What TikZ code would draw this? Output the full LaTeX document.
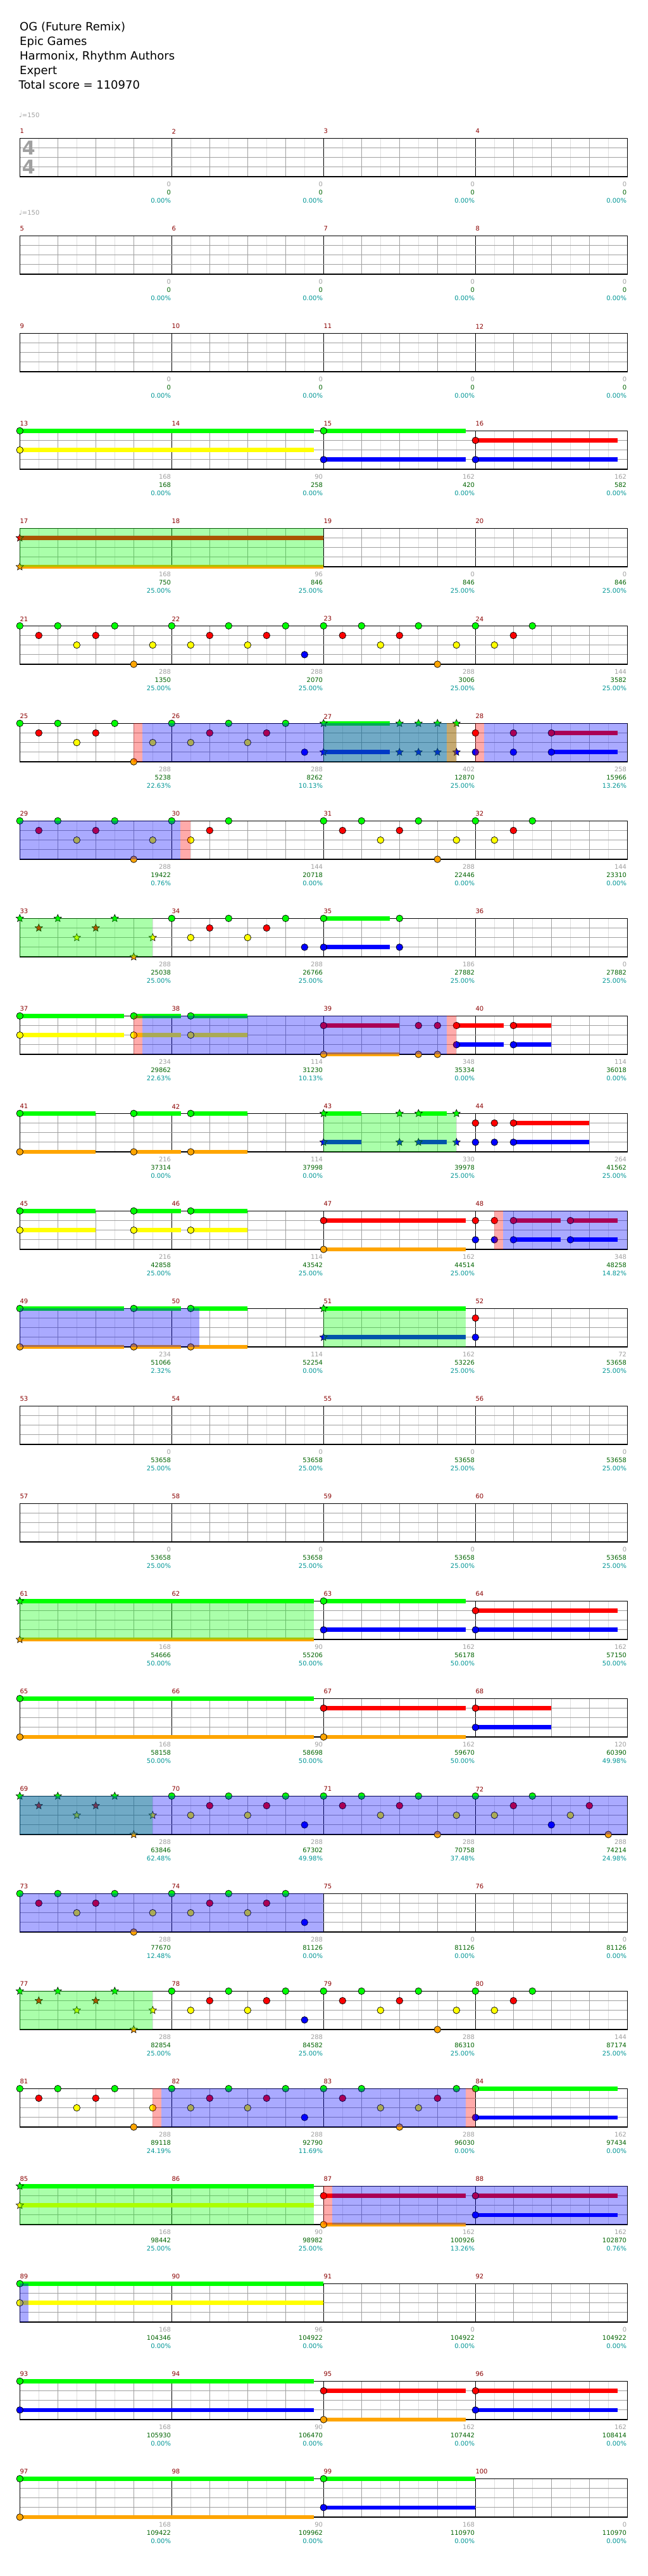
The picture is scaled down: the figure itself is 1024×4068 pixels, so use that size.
\documentclass[tikz,border=0pt]{standalone}
\usepackage{fontspec}
\setmainfont{DejaVu Sans}
\usetikzlibrary{shapes.geometric}
\definecolor{lane0}{RGB}{0,255,0}
\definecolor{lane1}{RGB}{255,0,0}
\definecolor{lane2}{RGB}{255,255,0}
\definecolor{lane3}{RGB}{0,0,255}
\definecolor{lane4}{RGB}{255,165,0}
\definecolor{barred}{RGB}{139,0,0}
\definecolor{ptsgray}{RGB}{160,160,160}
\definecolor{sumgreen}{RGB}{0,100,0}
\definecolor{pctteal}{RGB}{0,150,150}
\definecolor{gridgray}{RGB}{160,160,160}
\definecolor{gridlight}{RGB}{222,222,222}

% notes, holds and phrase zones (lane, eighth)
\newcommand{\gem}[2]{\draw[gem, fill=lane#1] (30*#2,15.17*#1) circle (5.3pt);}
\newcommand{\gems}[2]{\foreach \n in {#2} {\gem{#1}{\n}}}
\newcommand{\spgem}[2]{\node[spstar, fill=lane#1] at (30*#2,15.17*#1) {};}
\newcommand{\spgems}[2]{\foreach \n in {#2} {\spgem{#1}{\n}}}
\newcommand{\sustain}[3]{\fill[lane#1] (30*#2,15.17*#1-3.35) rectangle (30*#3,15.17*#1+3.35);}
\newcommand{\longgem}[3]{\sustain{#1}{#2}{#3}\gem{#1}{#2}}
\newcommand{\longspgem}[3]{\sustain{#1}{#2}{#3}\spgem{#1}{#2}}
\newcommand{\spzone}[2]{\fill[lane0, fill opacity=0.333] (30*#1,0) rectangle (30*#2,60.7);}
\newcommand{\odzone}[2]{\fill[lane3, fill opacity=0.333] (30*#1,0) rectangle (30*#2,60.7);}
\newcommand{\gapzone}[2]{\fill[lane1, fill opacity=0.333] (30*#1,0) rectangle (30*#2,60.7);}

% one line of four measures: row, labels, contents
\newcommand{\chartrow}[3]{%
  \begin{scope}[shift={(31.3,{218.3+154*(#1-1)})}]
    \foreach \kk in {1,3,...,31} \draw[halfbeat] (30*\kk,0) -- (30*\kk,60.7);
    \foreach \kk in {2,4,...,30} \draw[beatline] (30*\kk,0) -- (30*\kk,60.7);
    \foreach \kk in {8,16,24} \draw[barline] (30*\kk,0) -- (30*\kk,60.7);
    \foreach \yy in {1,2,3} \draw[laneline] (0,15.17*\yy) -- (960,15.17*\yy);
    \draw[staffframe] (0,0) rectangle (960,60.7);
    \foreach \kk/\ptsv/\sumv/\pctv in {#2} {
      \pgfmathtruncatemacro{\mnum}{4*(#1-1)+\kk+1}
      \node[barnum] (bar\mnum) at (240*\kk,-11) {\mnum};
      \node[ptslab] (pts\mnum) at (240*\kk+239,72.4) {\ptsv};
      \node[sumlab] (sum\mnum) at (240*\kk+239,85.4) {\sumv};
      \node[pctlab] (pct\mnum) at (240*\kk+239,98.7) {\pctv\%};
    }
    #3
  \end{scope}}

\begin{document}
\begin{tikzpicture}[x=1pt, y=-1pt,
    gem/.style={draw=black, line width=0.7pt},
    spstar/.style={star, star points=5, star point ratio=2.2, minimum size=12.5pt,
                   inner sep=0pt, draw=black, line width=0.6pt},
    halfbeat/.style={gridlight, line width=0.8pt},
    beatline/.style={gridgray, line width=0.8pt},
    barline/.style={black, line width=0.7pt},
    laneline/.style={gridgray, line width=1.1pt},
    staffframe/.style={black, line width=1.5pt},
    barnum/.style={anchor=west, inner sep=0pt, text=barred, font=\fontsize{10}{12}\selectfont},
    ptslab/.style={anchor=east, inner sep=0pt, text=ptsgray, font=\fontsize{10}{12}\selectfont},
    sumlab/.style={anchor=east, inner sep=0pt, text=sumgreen, font=\fontsize{10}{12}\selectfont},
    pctlab/.style={anchor=east, inner sep=0pt, text=pctteal, font=\fontsize{10}{12}\selectfont},
    headline/.style={anchor=base west, inner sep=0pt, font=\fontsize{18}{22}\selectfont},
    tempo/.style={anchor=west, inner sep=0pt, text=ptsgray, font=\fontsize{10}{12}\selectfont},
    timesig/.style={inner sep=0pt, text=ptsgray, font=\fontsize{30}{30}\selectfont\bfseries},
]
  \fill[white] (0,0) rectangle (1024,4068);
  \useasboundingbox (0,0) rectangle (1024,4068);

  % header
  \node[headline] (title)    at (31,49)    {OG (Future Remix)};
  \node[headline] (artist)   at (31,72)    {Epic Games};
  \node[headline] (charters) at (31,95)    {Harmonix, Rhythm Authors};
  \node[headline] (level)    at (31,118)   {Expert};
  \node[headline] (total)    at (29.5,141) {Total score = 110970};

  % measures 1-12
  \chartrow{1}{0/0/0/0.00, 1/0/0/0.00, 2/0/0/0.00, 3/0/0/0.00}{%
    \node[tempo] (tempo1) at (-1.3,-36) {♩=150};
    \node[timesig] (tsupper) at (14,15.2) {4};
    \node[timesig] (tslower) at (14,45.2) {4};}
  \chartrow{2}{0/0/0/0.00, 1/0/0/0.00, 2/0/0/0.00, 3/0/0/0.00}{%
    \node[tempo] (tempo2) at (-1.3,-36) {♩=150};}
  \chartrow{3}{0/0/0/0.00, 1/0/0/0.00, 2/0/0/0.00, 3/0/0/0.00}{}

  % measures 13-24
  \chartrow{4}{0/168/168/0.00, 1/90/258/0.00, 2/162/420/0.00, 3/162/582/0.00}{%
    \longgem{0}{0}{15.5}\longgem{2}{0}{15.5}
    \longgem{0}{16}{23.5}\longgem{3}{16}{23.5}
    \longgem{1}{24}{31.5}\longgem{3}{24}{31.5}}
  \chartrow{5}{0/168/750/25.00, 1/96/846/25.00, 2/0/846/25.00, 3/0/846/25.00}{%
    \longspgem{1}{0}{16}\longspgem{4}{0}{16}
    \spzone{0}{16}}
  \chartrow{6}{0/288/1350/25.00, 1/288/2070/25.00, 2/288/3006/25.00, 3/144/3582/25.00}{%
    \gems{0}{0,2,5,8,11,14,16,18,21,24,27}
    \gems{1}{1,4,10,13,17,20,26}
    \gems{2}{3,7,9,12,19,23,25}
    \gem{3}{15}
    \gems{4}{6,22}}

  % measures 25-36
  \chartrow{7}{0/288/5238/22.63, 1/288/8262/10.13, 2/402/12870/25.00, 3/258/15966/13.26}{%
    \gems{0}{0,2,5,8,11,14}\longspgem{0}{16}{19.5}\spgems{0}{20,21,22,23}
    \gems{1}{1,4,10,13,24,26}\longgem{1}{28}{31.5}
    \gems{2}{3,7,9,12}
    \gem{3}{15}\longspgem{3}{16}{19.5}\spgems{3}{20,21,22,23}
    \gems{3}{24,26}\longgem{3}{28}{31.5}
    \gem{4}{6}
    \spzone{16}{23}
    \gapzone{6}{6.47}\odzone{6.47}{22.5}\gapzone{22.5}{23}
    \gapzone{24}{24.47}\odzone{24.47}{32}}
  \chartrow{8}{0/288/19422/0.76, 1/144/20718/0.00, 2/288/22446/0.00, 3/144/23310/0.00}{%
    \gems{0}{0,2,5,8,11,16,18,21,24,27}
    \gems{1}{1,4,10,17,20,26}
    \gems{2}{3,7,9,19,23,25}
    \gems{4}{6,22}
    \odzone{0}{8.47}\gapzone{8.47}{9}}
  \chartrow{9}{0/288/25038/25.00, 1/288/26766/25.00, 2/186/27882/25.00, 3/0/27882/25.00}{%
    \spgems{0}{0,2,5}\spgems{1}{1,4}\spgems{2}{3,7}\spgems{4}{6}
    \gems{0}{8,11,14,20}\longgem{0}{16}{19.5}
    \gems{1}{10,13}
    \gems{2}{9,12}
    \gems{3}{15,20}\longgem{3}{16}{19.5}
    \spzone{0}{7}}

  % measures 37-48
  \chartrow{10}{0/234/29862/22.63, 1/114/31230/10.13, 2/348/35334/0.00, 3/114/36018/0.00}{%
    \longgem{0}{0}{5.5}\longgem{0}{6}{8.5}\longgem{0}{9}{12}
    \longgem{2}{0}{5.5}\longgem{2}{6}{8.5}\longgem{2}{9}{12}
    \longgem{1}{16}{20}\gems{1}{21,22}\longgem{1}{23}{25.5}\longgem{1}{26}{28}
    \longgem{3}{23}{25.5}\longgem{3}{26}{28}
    \longgem{4}{16}{20}\gems{4}{21,22}
    \gapzone{6}{6.47}\odzone{6.47}{22.5}\gapzone{22.5}{23}}
  \chartrow{11}{0/216/37314/0.00, 1/114/37998/0.00, 2/330/39978/25.00, 3/264/41562/25.00}{%
    \longgem{0}{0}{4}\longgem{0}{6}{8.5}\longgem{0}{9}{12}
    \longgem{4}{0}{4}\longgem{4}{6}{8.5}\longgem{4}{9}{12}
    \longspgem{0}{16}{18}\spgem{0}{20}\longspgem{0}{21}{22.5}\spgem{0}{23}
    \longspgem{3}{16}{18}\spgem{3}{20}\longspgem{3}{21}{22.5}\spgem{3}{23}
    \gems{1}{24,25}\longgem{1}{26}{30}
    \gems{3}{24,25}\longgem{3}{26}{30}
    \spzone{16}{23}}
  \chartrow{12}{0/216/42858/25.00, 1/114/43542/25.00, 2/162/44514/25.00, 3/348/48258/14.82}{%
    \longgem{0}{0}{4}\longgem{0}{6}{8.5}\longgem{0}{9}{12}
    \longgem{2}{0}{4}\longgem{2}{6}{8.5}\longgem{2}{9}{12}
    \longgem{1}{16}{23.5}\gems{1}{24,25}\longgem{1}{26}{28.5}\longgem{1}{29}{31.5}
    \gems{3}{24,25}\longgem{3}{26}{28.5}\longgem{3}{29}{31.5}
    \longgem{4}{16}{23.5}
    \gapzone{25}{25.47}\odzone{25.47}{32}}

  % measures 49-60
  \chartrow{13}{0/234/51066/2.32, 1/114/52254/0.00, 2/162/53226/25.00, 3/72/53658/25.00}{%
    \longgem{0}{0}{5.5}\longgem{0}{6}{8.5}\longgem{0}{9}{12}
    \longgem{4}{0}{5.5}\longgem{4}{6}{8.5}\longgem{4}{9}{12}
    \longspgem{0}{16}{23.5}\longspgem{3}{16}{23.5}
    \gem{1}{24}\gem{3}{24}
    \spzone{16}{23.5}\odzone{0}{9.47}}
  \chartrow{14}{0/0/53658/25.00, 1/0/53658/25.00, 2/0/53658/25.00, 3/0/53658/25.00}{}
  \chartrow{15}{0/0/53658/25.00, 1/0/53658/25.00, 2/0/53658/25.00, 3/0/53658/25.00}{}

  % measures 61-72
  \chartrow{16}{0/168/54666/50.00, 1/90/55206/50.00, 2/162/56178/50.00, 3/162/57150/50.00}{%
    \longspgem{0}{0}{15.5}\longspgem{4}{0}{15.5}
    \longgem{0}{16}{23.5}\longgem{3}{16}{23.5}
    \longgem{1}{24}{31.5}\longgem{3}{24}{31.5}
    \spzone{0}{15.5}}
  \chartrow{17}{0/168/58158/50.00, 1/90/58698/50.00, 2/162/59670/50.00, 3/120/60390/49.98}{%
    \longgem{0}{0}{15.5}\longgem{4}{0}{15.5}
    \longgem{1}{16}{23.5}\longgem{4}{16}{23.5}
    \longgem{1}{24}{28}\longgem{3}{24}{28}}
  \chartrow{18}{0/288/63846/62.48, 1/288/67302/49.98, 2/288/70758/37.48, 3/288/74214/24.98}{%
    \spgems{0}{0,2,5}\spgems{1}{1,4}\spgems{2}{3,7}\spgems{4}{6}
    \gems{0}{8,11,14,16,18,21,24,27}
    \gems{1}{10,13,17,20,26,30}
    \gems{2}{9,12,19,23,25,29}
    \gems{3}{15,28}
    \gems{4}{22,31}
    \spzone{0}{7}\odzone{0}{32}}

  % measures 73-84
  \chartrow{19}{0/288/77670/12.48, 1/288/81126/0.00, 2/0/81126/0.00, 3/0/81126/0.00}{%
    \gems{0}{0,2,5,8,11,14}
    \gems{1}{1,4,10,13}
    \gems{2}{3,7,9,12}
    \gem{3}{15}\gem{4}{6}
    \odzone{0}{16}}
  \chartrow{20}{0/288/82854/25.00, 1/288/84582/25.00, 2/288/86310/25.00, 3/144/87174/25.00}{%
    \spgems{0}{0,2,5}\spgems{1}{1,4}\spgems{2}{3,7}\spgems{4}{6}
    \gems{0}{8,11,14,16,18,21,24,27}
    \gems{1}{10,13,17,20,26}
    \gems{2}{9,12,19,23,25}
    \gem{3}{15}\gem{4}{22}
    \spzone{0}{7}}
  \chartrow{21}{0/288/89118/24.19, 1/288/92790/11.69, 2/288/96030/0.00, 3/162/97434/0.00}{%
    \gems{0}{0,2,5,8,11,14,16,18,23}\longgem{0}{24}{31.5}
    \gems{1}{1,4,10,13,17,22}
    \gems{2}{3,7,9,12,19,21}
    \gem{3}{15}\longgem{3}{24}{31.5}
    \gems{4}{6,20}
    \gapzone{7}{7.47}\odzone{7.47}{23.5}\gapzone{23.5}{24}}

  % measures 85-100
  \chartrow{22}{0/168/98442/25.00, 1/90/98982/25.00, 2/162/100926/13.26, 3/162/102870/0.76}{%
    \longspgem{0}{0}{15.5}\longspgem{2}{0}{15.5}
    \longgem{1}{16}{23.5}\longgem{4}{16}{23.5}
    \longgem{1}{24}{31.5}\longgem{3}{24}{31.5}
    \spzone{0}{15.5}\gapzone{16}{16.47}\odzone{16.47}{32}}
  \chartrow{23}{0/168/104346/0.00, 1/96/104922/0.00, 2/0/104922/0.00, 3/0/104922/0.00}{%
    \longgem{0}{0}{16}\longgem{2}{0}{16}
    \odzone{0}{0.45}}
  \chartrow{24}{0/168/105930/0.00, 1/90/106470/0.00, 2/162/107442/0.00, 3/162/108414/0.00}{%
    \longgem{0}{0}{15.5}\longgem{3}{0}{15.5}
    \longgem{1}{16}{23.5}\longgem{4}{16}{23.5}
    \longgem{1}{24}{31.5}\longgem{3}{24}{31.5}}
  \chartrow{25}{0/168/109422/0.00, 1/90/109962/0.00, 2/168/110970/0.00, 3/0/110970/0.00}{%
    \longgem{0}{0}{15.5}\longgem{4}{0}{15.5}
    \longgem{0}{16}{24}\longgem{3}{16}{24}}

\end{tikzpicture}
\end{document}
